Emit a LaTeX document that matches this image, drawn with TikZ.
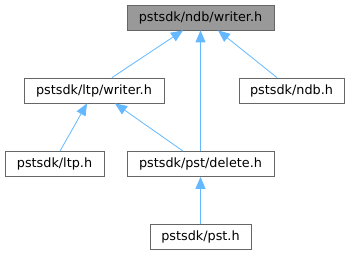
\documentclass[tikz,border=0pt]{standalone}
\usepackage{fontspec}
\setmainfont{DejaVu Sans}
\usetikzlibrary{arrows.meta}
\definecolor{edgeblue}{HTML}{63B8FF}
\definecolor{boxborder}{HTML}{666666}
\definecolor{topfill}{HTML}{999999}
\tikzset{
  filebox/.style={draw=boxborder, line width=0.8pt, fill=white, minimum height=25pt, inner sep=0pt, font=\fontsize{12.8}{15}\selectfont, anchor=center},
  topbox/.style={filebox, fill=topfill},
  dep/.style={draw=edgeblue, line width=0.8pt, -{Triangle[length=12pt,width=10pt,fill=edgeblue]}}
}
\begin{document}
\begin{tikzpicture}[x=1pt,y=1pt]
\useasboundingbox (0,0) rectangle (350,256);
\node[topbox, minimum width=147pt] (w) at (200.5,238.5) {pstsdk/ndb/writer.h};
\node[filebox, minimum width=140pt] (lw) at (94,165.5) {pstsdk/ltp/writer.h};
\node[filebox, minimum width=105pt] (ndb) at (291.5,165.5) {pstsdk/ndb.h};
\node[filebox, minimum width=99pt] (ltp) at (54.5,92) {pstsdk/ltp.h};
\node[filebox, minimum width=147pt] (del) at (200.5,92) {pstsdk/pst/delete.h};
\node[filebox, minimum width=101pt] (pst) at (200.5,19) {pstsdk/pst.h};
\draw[dep] (lw.north -| 112,0) -- (w.south -| 183,0);
\draw[dep] (del.north) -- (w.south);
\draw[dep] (ndb.north -| 277,0) -- (w.south -| 218,0);
\draw[dep] (ltp.north -| 60,0) -- (lw.south -| 87,0);
\draw[dep] (del.north -| 183,0) -- (lw.south -| 115,0);
\draw[dep] (pst.north) -- (del.south);
\end{tikzpicture}
\end{document}
